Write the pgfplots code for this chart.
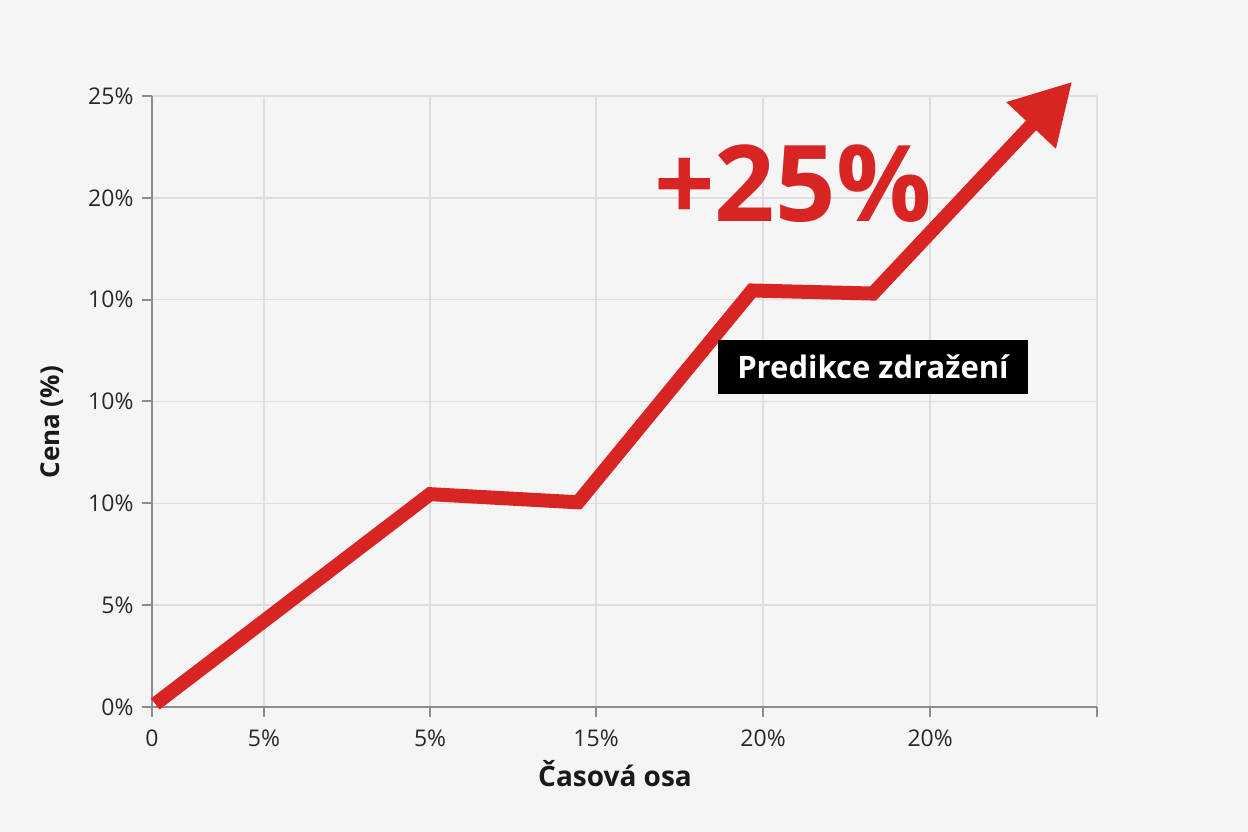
\documentclass[border=0pt]{standalone}
\usepackage{pgfplots}
\pgfplotsset{compat=1.18}
\usepackage{fontspec}
\setmainfont{Open Sans}
\usetikzlibrary{arrows.meta}
\definecolor{bg}{RGB}{245,245,245}
\definecolor{red1}{RGB}{217,36,36}
\definecolor{gridc}{RGB}{222,222,222}
\definecolor{axc}{RGB}{140,140,140}
\definecolor{txt}{RGB}{40,40,40}
\begin{document}
\begin{tikzpicture}
\fill[bg] (-152pt,-125pt) rectangle (1096pt,707pt);
\begin{axis}[
 at={(0,0)}, anchor=south west,
 scale only axis, width=945pt, height=611pt,
 xmin=0, xmax=5.669, ymin=0, ymax=6,
 axis lines=left, axis line style={-, axc, line width=2pt},
 xtick={0,0.672,1.668,2.664,3.666,4.668,5.669},
 xticklabels={0,5\%,5\%,15\%,20\%,20\%,},
 ytick={0,1,2,3,4,5,6},
 yticklabels={0\%,5\%,10\%,10\%,10\%,20\%,25\%},
 tick align=outside, major tick length=10pt,
 tick style={axc, line width=2pt},
 grid=major, grid style={gridc, line width=1.5pt},
 ticklabel style={font=\fontsize{23}{27}\selectfont, text=txt},
 xticklabel style={yshift=-9pt},
 yticklabel style={xshift=-5pt},
 clip=false,
 /pgf/number format/assume math mode=true,
]
\addplot[red1, line width=14pt, line join=miter, -{Triangle[length=60pt,width=64pt]}] coordinates {
 (0.02,0.03) (1.668,2.09) (2.556,2.01) (3.60,4.09) (4.325,4.06) (5.52,6.14)
};
\node[anchor=base, text=red1, font=\fontsize{106}{116}\selectfont\bfseries] at (axis cs:3.845,4.764) {+25\%};
\node[fill=black, text=white, minimum width=310pt, minimum height=54pt, inner sep=0pt, font=\fontsize{31}{36}\selectfont\bfseries] at (axis cs:4.325,3.34) {Predikce zdražení};
\node[anchor=base, font=\fontsize{28}{32}\selectfont\bfseries, text=black!90] at ([yshift=-80pt]axis description cs:0.49,0) {Časová osa};
\node[anchor=base, rotate=90, font=\fontsize{26}{30}\selectfont\bfseries, text=black!90] at ([xshift=-92pt]axis description cs:0,0.466) {Cena (\%)};
\end{axis}
\pgfresetboundingbox
\path[use as bounding box] (-152pt,-125pt) rectangle (1096pt,707pt);
\end{tikzpicture}
\end{document}
